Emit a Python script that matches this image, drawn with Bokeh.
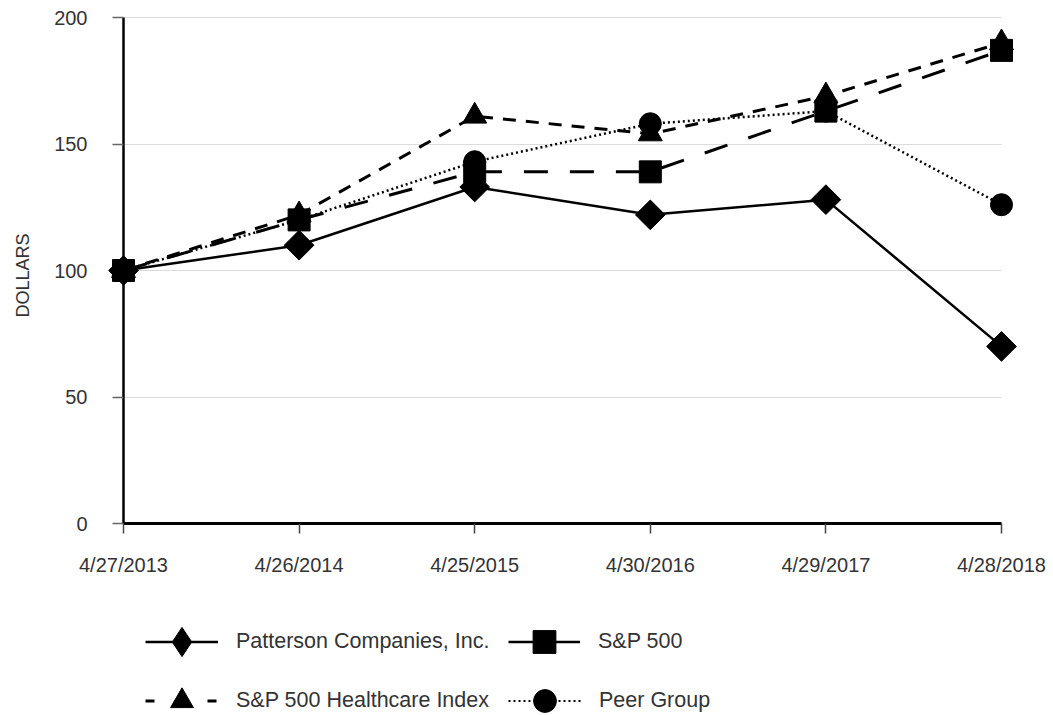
import numpy as np
from bokeh.plotting import figure
from bokeh.models import Range1d, FixedTicker, Legend, LegendItem, Label
from bokeh.embed import file_html
from bokeh.resources import INLINE

# ---- data ----
dates = ["4/27/2013", "4/26/2014", "4/25/2015", "4/30/2016", "4/29/2017", "4/28/2018"]
patterson = [100, 110, 133, 122, 128, 70]
sp500 = [100, 120, 139, 139, 163, 187]
healthcare = [100, 122, 161, 154, 169, 190]
peer = [100, 120, 143, 158, 163, 126]
y_ticks = [0, 50, 100, 150, 200]

series_names = ["Patterson Companies, Inc.", "S&P 500", "S&P 500 Healthcare Index", "Peer Group"]

x = list(range(len(dates)))
FONT = "Liberation Sans"
TXT = "#333333"

# ---- layout in pixels (frame = whole canvas, axes placed at fixed locations) ----
W, H = 1053, 715
X0_PX, X_END_PX = 123, 1001     # pixel of first / last category
Y0_PX, Y_TOP_PX = 523, 17       # pixel of value 0 / value 200
pxx = (X_END_PX - X0_PX) / (x[-1] - x[0])
pxy = (Y0_PX - Y_TOP_PX) / (y_ticks[-1] - y_ticks[0])
x_rng = Range1d(x[0] - X0_PX / pxx, x[-1] + (W - X_END_PX) / pxx)
y_rng = Range1d(y_ticks[0] - (H - Y0_PX) / pxy, y_ticks[-1] + Y_TOP_PX / pxy)

p = figure(width=W, height=H, output_backend="svg", toolbar_location=None,
           x_range=x_rng, y_range=y_rng, min_border=0)
p.outline_line_color = None
p.background_fill_color = "white"
p.border_fill_color = "white"

# grid
p.xgrid.visible = False
p.ygrid.ticker = FixedTicker(ticks=y_ticks)
p.ygrid.grid_line_color = "#dcdcdc"
p.ygrid.grid_line_width = 1
try:
    p.ygrid.cross_bounds = (x[0], x[-1])
except Exception:
    p.ygrid.visible = False
    p.segment(x0=x[0], x1=x[-1], y0=y_ticks, y1=y_ticks, line_color="#dcdcdc", line_width=1)

# x axis at value 0
xa = p.xaxis[0]
xa.fixed_location = 0
xa.bounds = (x[0], x[-1])
xa.ticker = FixedTicker(ticks=x)
xa.major_label_overrides = {i: d for i, d in zip(x, dates)}
xa.axis_line_color = "black"
xa.axis_line_width = 3
xa.major_tick_line_color = "#444444"
xa.major_tick_line_width = 1.5
xa.major_tick_out = 10
xa.major_tick_in = 0
xa.minor_tick_line_color = None
xa.major_label_text_font = FONT
xa.major_label_text_font_size = "20px"
xa.major_label_text_color = TXT
xa.major_label_standoff = 20

# y axis at first category
ya = p.yaxis[0]
ya.fixed_location = x[0]
ya.bounds = (y_ticks[0], y_ticks[-1])
ya.ticker = FixedTicker(ticks=y_ticks)
ya.axis_line_color = "black"
ya.axis_line_width = 2.5
ya.major_tick_line_color = "#666666"
ya.major_tick_line_width = 1.5
ya.major_tick_out = 11
ya.major_tick_in = 0
ya.minor_tick_line_color = None
ya.major_label_text_font = FONT
ya.major_label_text_font_size = "20px"
ya.major_label_text_color = TXT
ya.major_label_standoff = 25

p.add_layout(Label(x=22, y=H - 275, x_units="screen", y_units="screen", text="DOLLARS",
                   angle=np.pi / 2, text_align="center", text_baseline="middle",
                   text_font=FONT, text_font_size="18px", text_color=TXT))

styles = [
    dict(vals=patterson, dash="solid", lw=2.5, marker="square", size=21, angle=np.pi / 4,
         leg_marker="diamond", leg_dash="solid", leg_lw=2.5),
    dict(vals=sp500, dash="24 22", lw=3, marker="square", size=22, angle=0,
         leg_marker="square", leg_dash="solid", leg_lw=2.5),
    dict(vals=healthcare, dash="13 10", lw=3, marker="triangle", size=24, angle=0,
         leg_marker="triangle", leg_dash="9 53", leg_lw=3),
    dict(vals=peer, dash="2 3", lw=2.5, marker="circle", size=22, angle=0,
         leg_marker="circle", leg_dash="2 3", leg_lw=2),
]

nan = [np.nan]
items = []
for name, st in zip(series_names, styles):
    lr = p.line(x, st["vals"], line_color="black", line_width=st["lw"], line_dash=st["dash"])
    sr = p.scatter(x, st["vals"], marker=st["marker"], size=st["size"], angle=st["angle"],
                   fill_color="black", line_color="black")
    lr.level = "overlay"
    sr.level = "overlay"
    # legend-only proxies (a single NaN point, never drawn on the chart)
    pl = p.line(nan, nan, line_color="black", line_width=st["leg_lw"], line_dash=st["leg_dash"])
    ps = p.scatter(nan, nan, marker=st["leg_marker"], fill_color="black", line_color="black")
    items.append(LegendItem(label=name, renderers=[pl, ps]))

common = dict(orientation="horizontal", padding=0, margin=0, border_line_color=None,
              background_fill_alpha=0, label_text_font=FONT, label_text_font_size="21.5px",
              label_text_color=TXT, label_standoff=18, spacing=0)

# (left px, centre px of row) for the legend pieces
ROW1, ROW2 = 641, 700
COL1, COL2 = 145, 508

legA = Legend(items=[items[0]], glyph_width=73, glyph_height=75,
              location=(COL1, H - ROW1 - 75 / 2), **common)
legB = Legend(items=[items[1]], glyph_width=72, glyph_height=57,
              location=(COL2, H - ROW1 - 57 / 2), **common)
legC = Legend(items=[items[2], items[3]], glyph_width=73, glyph_height=57,
              label_width=COL2 - COL1 - 73 - 18,
              location=(COL1, H - ROW2 - 57 / 2), **common)
for lg in (legA, legB, legC):
    lg.level = "overlay"
    p.add_layout(lg, "center")

open("out.html", "w").write(file_html(p, INLINE))
